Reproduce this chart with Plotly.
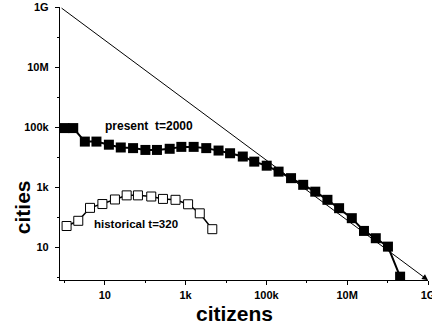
import math
import plotly.graph_objects as go

# City-size distributions: number of cities vs. number of citizens (log-log)
present_citizens = [1, 1.65, 3.2, 6.2, 12.6, 24.8, 50, 101, 195, 403, 783, 1580, 3240,
                    6530, 12600, 26000, 50000, 101600, 200000, 407000, 813000, 1.62e6,
                    3.24e6, 6.3e6, 13e6, 26e6, 51e6, 102e6, 204e6]
present_cities = [93000, 93000, 33000, 33000, 26000, 21000, 20000, 17400, 17400, 19000,
                  22000, 22000, 20000, 16600, 13500, 10500, 7100, 5200, 3300, 2000, 1200,
                  710, 380, 200, 93, 35, 20, 10.5, 1.05]

historical_citizens = [1.13, 2.2, 4.3, 8.7, 17.8, 34.7, 66, 141, 275, 562, 1150, 2240, 4570]
historical_cities = [51, 76, 205, 275, 390, 535, 535, 490, 407, 380, 270, 135, 40]

# Reference power law (slope -1), drawn corner to corner
zipf_citizens = [0.78, 1e9]
zipf_cities = [1e9, 0.8]

tick_vals = [10, 1e3, 1e5, 1e7, 1e9]
tick_text = ["10", "1k", "100k", "10M", "1G"]
minor_vals = [1, 100, 1e4, 1e6, 1e8]

FONT = "Liberation Sans, Arial, sans-serif"

fig = go.Figure()

fig.add_trace(go.Scatter(
    x=present_citizens, y=present_cities, mode="lines+markers",
    line=dict(color="black", width=2),
    marker=dict(symbol="square", size=10, color="black", line=dict(width=0)),
    showlegend=False,
))

fig.add_trace(go.Scatter(
    x=historical_citizens, y=historical_cities, mode="lines+markers",
    line=dict(color="black", width=1.5),
    marker=dict(symbol="square", size=9, color="white", line=dict(color="black", width=1)),
    showlegend=False,
))

# Power-law guide with arrowhead at its lower end
fig.add_annotation(
    x=math.log10(zipf_citizens[1]), y=math.log10(zipf_cities[1]),
    ax=math.log10(zipf_citizens[0]), ay=math.log10(zipf_cities[0]),
    xref="x", yref="y", axref="x", ayref="y",
    showarrow=True, arrowhead=2, arrowsize=1.2, arrowwidth=1, arrowcolor="black",
    text="", standoff=0, startstandoff=0,
)

fig.add_annotation(x=2.086, y=5.05, xref="x", yref="y", text="present  t=2000",
                   showarrow=False, font=dict(family=FONT, size=12, color="black", weight="bold"))
fig.add_annotation(x=1.78, y=1.79, xref="x", yref="y", text="historical t=320",
                   showarrow=False, font=dict(family=FONT, size=11.5, color="black", weight="bold"))

# Axis titles
fig.add_annotation(x=0.4755, y=-0.123, xref="paper", yref="paper", text="citizens",
                   showarrow=False, xanchor="center", yanchor="middle",
                   font=dict(family=FONT, size=21, color="black", weight="bold"))
fig.add_annotation(x=-0.103, y=0.267, xref="paper", yref="paper", text="cities",
                   showarrow=False, xanchor="center", yanchor="middle", textangle=-90,
                   font=dict(family=FONT, size=21, color="black", weight="bold"))

axis_common = dict(
    type="log", showgrid=False, zeroline=False, showline=True, linecolor="black",
    linewidth=1.3, ticks="outside", ticklen=4, tickwidth=1.2, tickcolor="black",
    tickmode="array", tickvals=tick_vals, ticktext=tick_text,
    tickfont=dict(family=FONT, size=11, color="black", weight="bold"),
    automargin=False, mirror=False, ticklabeloverflow="allow",
    minor=dict(tickmode="array", tickvals=minor_vals, ticks="outside", ticklen=2,
               tickwidth=1, tickcolor="black", showgrid=False),
)

fig.update_xaxes(range=[-0.11, 9.0], ticklabelstandoff=1, **axis_common)
fig.update_yaxes(range=[-0.09, 9.0], ticklabelstandoff=4, **axis_common)

fig.update_layout(
    width=432, height=328,
    margin=dict(l=60, r=4, t=7, b=48),
    paper_bgcolor="white", plot_bgcolor="white",
)

fig.write_html("out.html")
